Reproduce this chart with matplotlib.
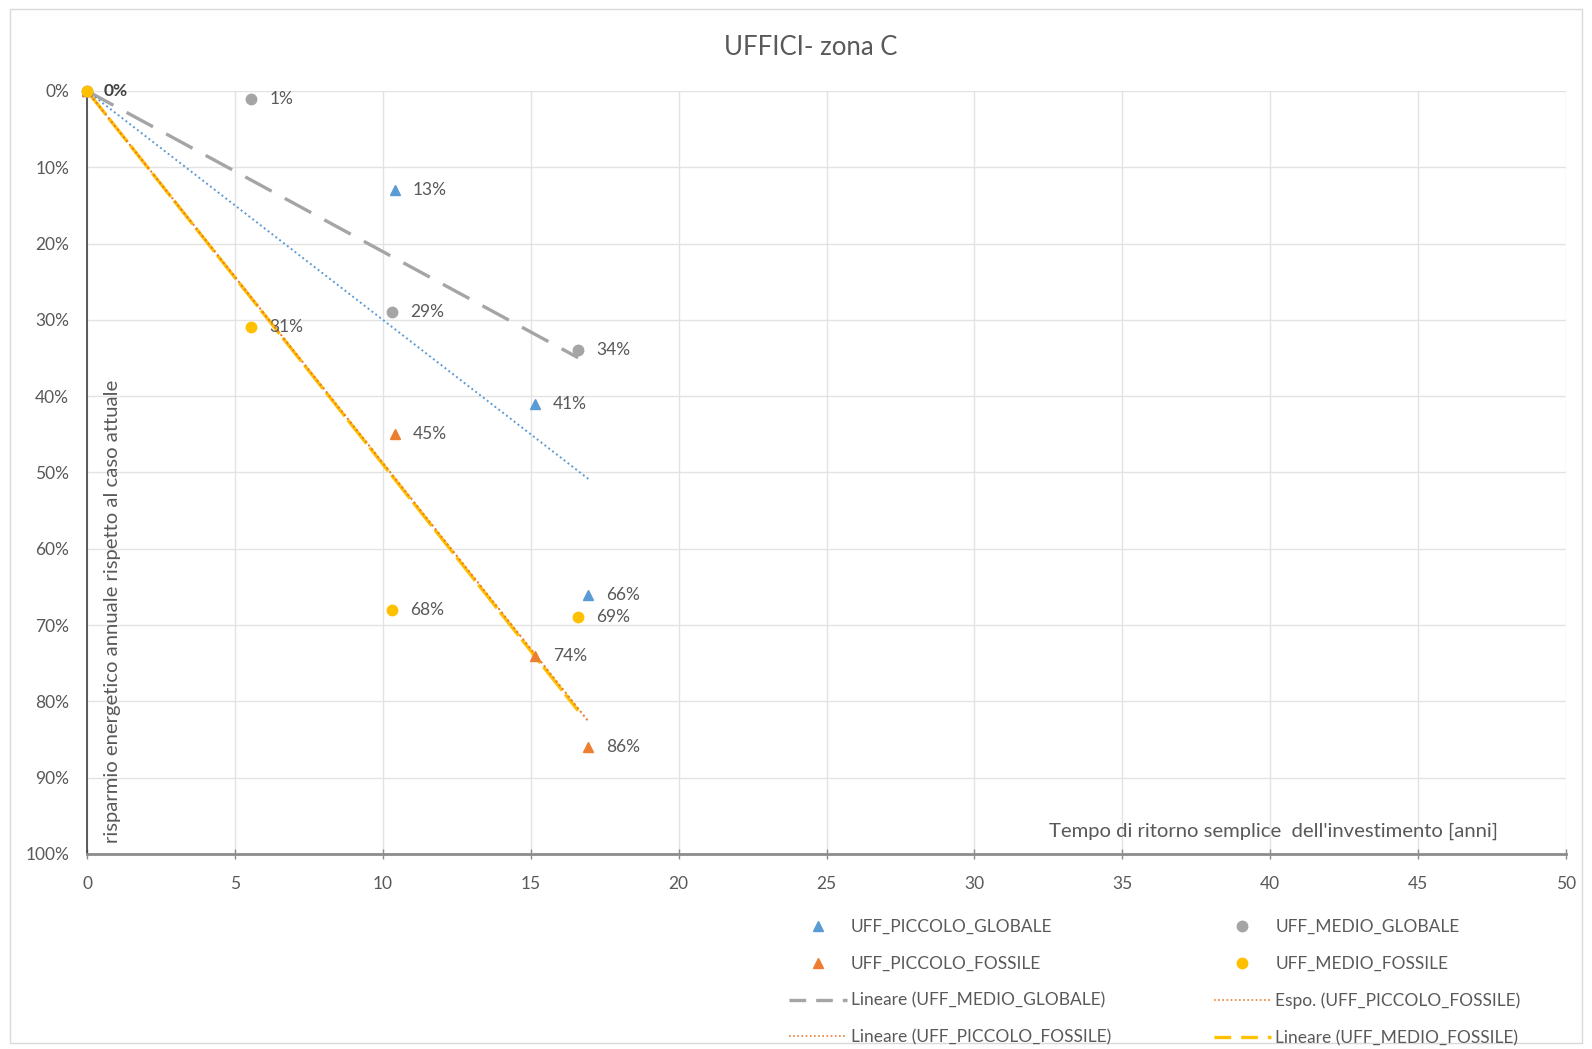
import numpy as np
import matplotlib
matplotlib.use("Agg")
import matplotlib.pyplot as plt
from matplotlib.lines import Line2D
from matplotlib.patches import Rectangle
from matplotlib.ticker import FuncFormatter

plt.rcParams['font.family'] = ['Lato', 'DejaVu Sans']

# ---- data (payback years, savings fraction) ----
piccolo_globale_x = [0.0, 10.4, 15.15, 16.95]
piccolo_globale_y = [0.00, 0.13, 0.41, 0.66]
piccolo_fossile_x = [0.0, 10.4, 15.15, 16.95]
piccolo_fossile_y = [0.00, 0.45, 0.74, 0.86]
medio_globale_x = [0.0, 5.55, 10.3, 16.6]
medio_globale_y = [0.00, 0.01, 0.29, 0.34]
medio_fossile_x = [0.0, 5.55, 10.3, 16.6]
medio_fossile_y = [0.00, 0.31, 0.68, 0.69]

x_ticks = list(range(0, 55, 5))
y_ticks = [i / 10 for i in range(11)]

title = "UFFICI- zona C"
xlabel = "Tempo di ritorno semplice  dell'investimento [anni]"
ylabel = "risparmio energetico annuale rispetto al caso attuale"

BLUE = "#5B9BD5"
ORANGE = "#ED7D31"
GRAY = "#A5A5A5"
YELLOW = "#FFC000"
TXT = "#595959"


def fit_origin(x, y):
    x = np.asarray(x); y = np.asarray(y)
    return (x * y).sum() / (x * x).sum()


fig = plt.figure(figsize=(15.92, 10.49), dpi=100)
fig.patch.set_facecolor("white")
fig.patches.append(Rectangle((0.006, 0.006), 0.988, 0.985, transform=fig.transFigure,
                             fill=False, edgecolor="#D9D9D9", lw=1.0))

ax = fig.add_axes([0.0547, 0.1859, 0.9290, 0.7274])
ax.set_xlim(0, 50)
ax.set_ylim(1.0, 0.0)

ax.set_xticks(x_ticks)
ax.set_yticks(y_ticks)
ax.yaxis.set_major_formatter(FuncFormatter(lambda v, p: f"{v*100:.0f}%"))
ax.grid(True, color="#E3E3E3", lw=1.0)
ax.set_axisbelow(True)
for s in ["top", "right"]:
    ax.spines[s].set_visible(False)
ax.spines["left"].set_color("#404040")
ax.spines["left"].set_linewidth(1.2)
ax.spines["bottom"].set_color("#8C8C8C")
ax.spines["bottom"].set_linewidth(2.0)
ax.tick_params(axis="y", length=0, labelsize=12.5, colors=TXT, pad=13)
ax.tick_params(axis="x", direction="inout", length=7, width=1, color="#8C8C8C",
               labelsize=12.5, labelcolor=TXT, pad=12)

# trendlines (linear through origin)
def trend(x, y, **kw):
    m = fit_origin(x, y)
    xs = np.array([0, max(x)])
    ax.plot(xs, m * xs, **kw)

trend(medio_globale_x, medio_globale_y, color=GRAY, lw=2.4, dashes=(9, 4.5), zorder=2)
trend(piccolo_globale_x, piccolo_globale_y, color=BLUE, lw=1.4, dashes=(1, 1.5), zorder=2)
trend(medio_fossile_x, medio_fossile_y, color=YELLOW, lw=2.4, dashes=(9, 1.5), zorder=2)
trend(piccolo_fossile_x, piccolo_fossile_y, color=ORANGE, lw=1.4, dashes=(1, 1.5), zorder=3)
trend(piccolo_fossile_x, piccolo_fossile_y, color=ORANGE, lw=1.0, dashes=(1, 2.5), zorder=3)

# scatter series
series = [
    (piccolo_globale_x, piccolo_globale_y, "^", BLUE),
    (piccolo_fossile_x, piccolo_fossile_y, "^", ORANGE),
    (medio_globale_x, medio_globale_y, "o", GRAY),
    (medio_fossile_x, medio_fossile_y, "o", YELLOW),
]
origin_labelled = False
for xs, ys, mk, c in series:
    ax.plot(xs, ys, ls="none", marker=mk, color=c, ms=7.5, zorder=4, clip_on=False)
    for x, y in zip(xs, ys):
        if x == 0 and y == 0:
            if origin_labelled:
                continue
            origin_labelled = True
            ax.annotate(f"{y*100:.0f}%", (x, y), xytext=(12, 0), textcoords="offset points",
                        va="center", ha="left", fontsize=12.5, color="#404040",
                        fontweight="bold", zorder=5)
            continue
        ax.annotate(f"{y*100:.0f}%", (x, y), xytext=(13, 0), textcoords="offset points",
                    va="center", ha="left", fontsize=12.5, color=TXT, zorder=5)

fig.text(0.509, 0.955, title, fontsize=18.5, color=TXT, ha="center", va="center")
ax.text(0.85, 0.985, ylabel, rotation=90, ha="center", va="bottom",
        fontsize=14.6, color=TXT)
ax.text(47.7, 0.97, xlabel, ha="right", va="center", fontsize=14.6, color=TXT)

# legend
handles = [
    Line2D([], [], ls="none", marker="^", color=BLUE, ms=7.5),
    Line2D([], [], ls="none", marker="^", color=ORANGE, ms=7.5),
    Line2D([], [], color=GRAY, lw=2.4, dashes=(5, 3)),
    Line2D([], [], color=ORANGE, lw=1.2, dashes=(1, 1.5)),
    Line2D([], [], ls="none", marker="o", color=GRAY, ms=7.5),
    Line2D([], [], ls="none", marker="o", color=YELLOW, ms=7.5),
    Line2D([], [], color=ORANGE, lw=1.2, dashes=(1, 1.5)),
    Line2D([], [], color=YELLOW, lw=2.4, dashes=(5, 3)),
]
labels = [
    "UFF_PICCOLO_GLOBALE",
    "UFF_PICCOLO_FOSSILE",
    "Lineare (UFF_MEDIO_GLOBALE)",
    "Lineare (UFF_PICCOLO_FOSSILE)",
    "UFF_MEDIO_GLOBALE",
    "UFF_MEDIO_FOSSILE",
    "Espo. (UFF_PICCOLO_FOSSILE)",
    "Lineare (UFF_MEDIO_FOSSILE)",
]
leg = fig.legend(handles, labels, ncol=2, loc="upper left",
                 bbox_to_anchor=(0.486, 0.139), frameon=False, fontsize=12.5,
                 labelcolor=TXT, handlelength=3.3, handletextpad=0.25,
                 columnspacing=5.9, labelspacing=1.2)

fig.savefig("out.png", dpi=100, facecolor="white")
